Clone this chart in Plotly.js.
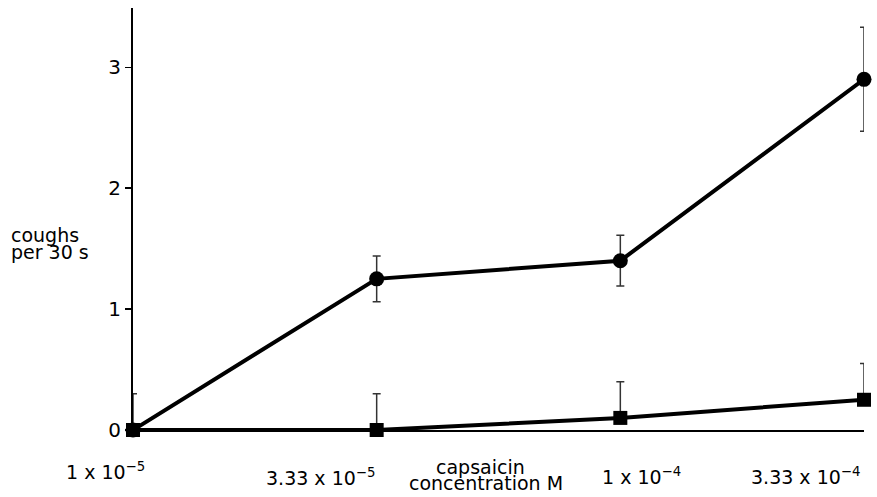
<!DOCTYPE html>
<html>
<head>
<meta charset="utf-8">
<script src="https://cdn.plot.ly/plotly-3.0.1.min.js"></script>
<style>html,body{margin:0;padding:0;background:#fff;}#chart{width:877px;height:497px;}</style>
</head>
<body>
<div id="chart"></div>
<script>
// Data
var categories = ['1 x 10^-5', '3.33 x 10^-5', '1 x 10^-4', '3.33 x 10^-4'];
var tickLabels = ['1 x 10<sup>−5</sup>', '3.33 x 10<sup>−5</sup>', '1 x 10<sup>−4</sup>', '3.33 x 10<sup>−4</sup>'];
var circleValues = [0, 1.25, 1.40, 2.90];
var circleErrors = [0, 0.19, 0.21, 0.43];
var squareValues = [0, 0, 0.10, 0.25];
var squareErrors = [0.30, 0.30, 0.30, 0.30];
var yTickValues = [0, 1, 2, 3];
var yTitleLines = ['coughs', 'per 30 s'];
var xTitleLines = ['capsaicin', 'concentration M'];

var FONT = 'DejaVu Sans, Liberation Sans, Arial, sans-serif';
var FS = 19;

var traces = [
  {
    x: categories, y: squareValues, type: 'scatter', mode: 'lines+markers',
    line: {color: '#000', width: 4},
    marker: {symbol: 'square', size: 14, color: '#000'},
    error_y: {type: 'data', array: squareErrors, arrayminus: squareValues.map(function(){return 0;}),
              symmetric: false, color: '#333', thickness: 1.5, width: 4},
    cliponaxis: false, showlegend: false, hoverinfo: 'none'
  },
  {
    x: categories, y: circleValues, type: 'scatter', mode: 'lines+markers',
    line: {color: '#000', width: 4},
    marker: {symbol: 'circle', size: 15, color: '#000'},
    error_y: {type: 'data', array: circleErrors, visible: true, color: '#333', thickness: 1.5, width: 4},
    cliponaxis: false, showlegend: false, hoverinfo: 'none'
  }
];

var annotations = [];
// x tick labels (staggered as in the reference), positioned by category index
var tickAnchors = ['center', 'right', 'center', 'right'];
var tickShiftX = [-28, 0, 21, -2];
var tickShiftY = [-41, -47, -46, -46];
for (var i = 0; i < categories.length; i++) {
  annotations.push({
    x: i, y: 0, xref: 'x', yref: 'paper',
    text: tickLabels[i], showarrow: false,
    xanchor: tickAnchors[i], yanchor: 'middle',
    xshift: tickShiftX[i], yshift: tickShiftY[i],
    font: {family: FONT, size: FS, color: '#000'}
  });
}
// x title lines
var xTitleShiftY = [-37, -53];
var xTitleShiftX = [-6, 0];
for (var j = 0; j < xTitleLines.length; j++) {
  annotations.push({
    x: 1.45, y: 0, xref: 'x', yref: 'paper',
    text: xTitleLines[j], showarrow: false,
    xanchor: 'center', yanchor: 'middle',
    xshift: xTitleShiftX[j], yshift: xTitleShiftY[j],
    font: {family: FONT, size: FS, color: '#000'}
  });
}
// y title lines
var yTitleY = [235, 252];
for (var k = 0; k < yTitleLines.length; k++) {
  annotations.push({
    x: 0, y: 1, xref: 'paper', yref: 'paper',
    text: yTitleLines[k], showarrow: false,
    xanchor: 'left', yanchor: 'middle',
    xshift: -124, yshift: -(yTitleY[k] - 8),
    font: {family: FONT, size: FS, color: '#000'}
  });
}

var layout = {
  width: 877, height: 497,
  margin: {l: 133, r: 13, t: 8, b: 67, pad: 0},
  paper_bgcolor: '#fff', plot_bgcolor: '#fff',
  showlegend: false,
  font: {family: FONT, size: FS, color: '#000'},
  xaxis: {
    type: 'category', categoryorder: 'array', categoryarray: categories,
    range: [0, 3], showgrid: false, zeroline: false,
    showline: true, linecolor: '#000', linewidth: 1.5,
    showticklabels: false, ticks: '', fixedrange: true
  },
  yaxis: {
    range: [0, 3.49], showgrid: false, zeroline: false,
    showline: true, linecolor: '#000', linewidth: 2,
    tickmode: 'array', tickvals: yTickValues, ticktext: yTickValues.map(String),
    ticks: 'outside', ticklen: 6, tickwidth: 1.5, tickcolor: '#000',
    tickfont: {family: FONT, size: FS + 1, color: '#000'},
    fixedrange: true
  },
  annotations: annotations
};

Plotly.newPlot('chart', traces, layout, {staticPlot: true, displayModeBar: false});
</script>
</body>
</html>
